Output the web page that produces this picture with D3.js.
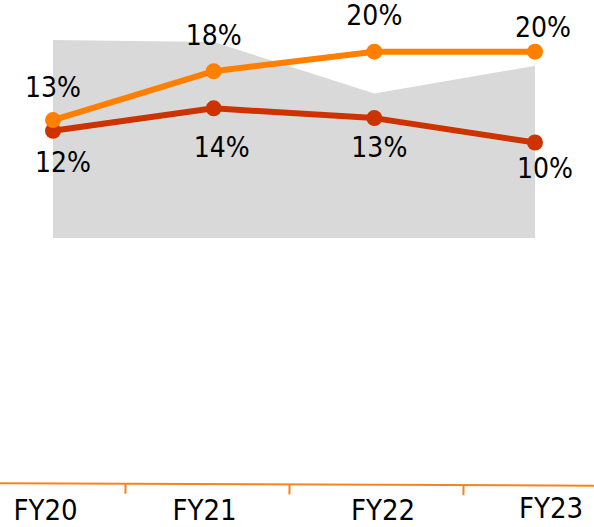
<!DOCTYPE html>
<html>
<head>
<meta charset="utf-8">
<script src="https://cdn.jsdelivr.net/npm/d3@7"></script>
<style>
  html, body { margin: 0; padding: 0; background: #ffffff; }
  svg { display: block; }
  text { font-family: "DejaVu Sans Condensed", "DejaVu Sans", sans-serif; fill: #000; }
</style>
</head>
<body>
<svg id="chart" width="594" height="527"></svg>
<script>
// ---- data ----
const categories = ["FY20", "FY21", "FY22", "FY23"];
const seriesA = [13, 18, 20, 20];            // orange line (%)
const seriesALabels = ["13%", "18%", "20%", "20%"];
const seriesB = [11.9, 14.2, 13.2, 10.7];    // dark-orange line (%)
const seriesBLabels = ["12%", "14%", "13%", "10%"];
const areaValues = [100, 99, 73, 87];        // grey background area (index)

// ---- layout ----
const W = 594, H = 527;
const svg = d3.select("#chart");

const x = d3.scalePoint().domain(categories).range([53, 535]);
const y = d3.scaleLinear().domain([0, 20]).range([247, 51.7]);
const yArea = d3.scaleLinear().domain([0, 100]).range([238, 40]);

// label offsets (layout only)
const aLabelDx = [0, 0, 0, 8], aLabelDy = [-23, -26, -27, -15];
const bLabelDx = [10, 8, 5, 10], bLabelDy = [41, 49, 39, 35];
const catLabelDx = [4.5, -5.5, 4, 3], catLabelY = [520, 520, 520, 518];
const tickDx = [0, -5, 0];

// grey area
const area = d3.area()
  .x((d, i) => x(categories[i]))
  .y0(yArea(0))
  .y1(d => yArea(d));
svg.append("path")
  .datum(areaValues)
  .attr("d", area)
  .attr("fill", "#d9d9d9");

// lines
const colA = "#ff7f00", colB = "#cc3300";
const line = yScale => d3.line().x((d, i) => x(categories[i])).y(d => yScale(d));

function drawSeries(vals, col) {
  svg.append("path").datum(vals)
    .attr("d", line(y))
    .attr("fill", "none")
    .attr("stroke", col)
    .attr("stroke-width", 6)
    .attr("stroke-linejoin", "round");
  svg.selectAll(null).data(vals).enter().append("circle")
    .attr("cx", (d, i) => x(categories[i]))
    .attr("cy", d => y(d))
    .attr("r", 8)
    .attr("fill", col);
}
drawSeries(seriesB, colB);
drawSeries(seriesA, colA);

function drawLabels(vals, labels, dx, dy) {
  svg.selectAll(null).data(vals).enter().append("text")
    .attr("x", (d, i) => x(categories[i]) + dx[i])
    .attr("y", (d, i) => y(d) + dy[i])
    .attr("text-anchor", "middle")
    .attr("font-size", 28)
    .text((d, i) => labels[i]);
}
drawLabels(seriesA, seriesALabels, aLabelDx, aLabelDy);
drawLabels(seriesB, seriesBLabels, bLabelDx, bLabelDy);

// category axis
const xb = d3.scaleBand().domain(categories).range([-43.5, 632.5]);
const axisG = svg.append("g")
  .attr("transform", "translate(0,484.5) rotate(0.23, 297, 0)");
axisG.append("line")
  .attr("x1", 0).attr("x2", W).attr("y1", 0).attr("y2", 0)
  .attr("stroke", "#f5841f").attr("stroke-width", 2);
axisG.selectAll(".tk").data(categories.slice(1)).enter().append("line")
  .attr("x1", (d, i) => xb(d) + tickDx[i]).attr("x2", (d, i) => xb(d) + tickDx[i])
  .attr("y1", 0).attr("y2", 10)
  .attr("stroke", "#f5841f").attr("stroke-width", 2);
const ax = d3.axisBottom(xb).tickSize(0).tickPadding(0);
const axG2 = svg.append("g").call(ax);
axG2.select(".domain").remove();
axG2.selectAll(".tick").attr("transform", (d, i) =>
  `translate(${xb(d) + xb.bandwidth() / 2 + catLabelDx[i]},${catLabelY[i]})`);
axG2.selectAll("text")
  .attr("dy", 0)
  .attr("y", 0)
  .attr("font-size", 29)
  .style("font-family", "'DejaVu Sans Condensed', 'DejaVu Sans', sans-serif")
  .attr("fill", "#000");
</script>
</body>
</html>
